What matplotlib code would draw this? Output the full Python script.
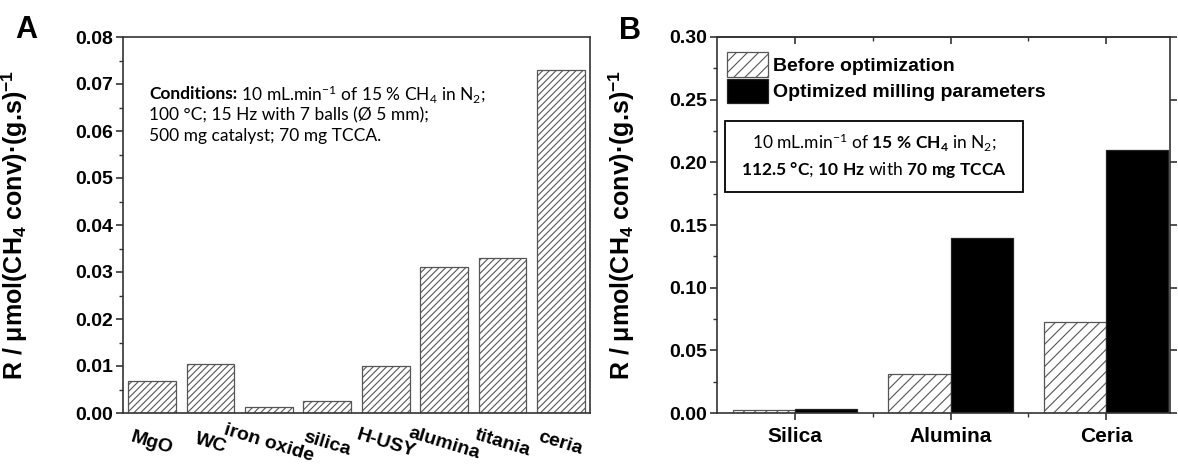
import matplotlib
matplotlib.use("Agg")
import matplotlib.pyplot as plt
import matplotlib.patches as mpatches
import numpy as np

# ---- data ----
catalysts_a = ["MgO", "WC", "iron oxide", "silica", "H-USY", "alumina", "titania", "ceria"]
rate_a = [0.0069, 0.0104, 0.0012, 0.0025, 0.0099, 0.031, 0.033, 0.073]

catalysts_b = ["Silica", "Alumina", "Ceria"]
rate_before = [0.0025, 0.031, 0.0725]
rate_optimized = [0.003, 0.14, 0.21]

yticks_a = [0.00, 0.01, 0.02, 0.03, 0.04, 0.05, 0.06, 0.07, 0.08]
yticks_b = [0.00, 0.05, 0.10, 0.15, 0.20, 0.25, 0.30]

plt.rcParams['font.family'] = ['Liberation Sans', 'DejaVu Sans']
plt.rcParams['mathtext.fontset'] = 'custom'
plt.rcParams['mathtext.rm'] = 'Lato'
plt.rcParams['mathtext.it'] = 'Lato:italic'
plt.rcParams['mathtext.bf'] = 'Lato:bold'
plt.rcParams['mathtext.sf'] = 'Liberation Sans:bold'
plt.rcParams['hatch.linewidth'] = 0.8

W, H = 1178, 471
fig = plt.figure(figsize=(W / 100, H / 100), dpi=100)

def frac(x0, y0, x1, y1):
    return [x0 / W, 1 - y1 / H, (x1 - x0) / W, (y1 - y0) / H]

spine_col = '#333333'
hatch_col = '#555555'
ylabel = r"R / μmol(CH$_\mathsf{4}$ conv)·(g.s)$^{\mathsf{-1}}$"
cond_font = dict(fontsize=12.5, family='Lato')

# ---------- Panel A ----------
axA = fig.add_axes(frac(123, 37, 590, 413))
xa = np.arange(1, len(catalysts_a) + 1)
axA.bar(xa, rate_a, width=0.82, color='white', edgecolor=hatch_col,
        hatch='/////', linewidth=0.9)
axA.set_xlim(0.5, len(catalysts_a) + 0.5)
axA.set_ylim(0, 0.08)
axA.set_yticks(yticks_a)
axA.set_yticklabels([f"{v:.2f}" for v in yticks_a], fontsize=14, fontweight='bold')
axA.set_yticks(np.arange(0.005, 0.08, 0.01), minor=True)
axA.tick_params(axis='y', which='major', direction='out', length=5, width=1.2, color=spine_col, pad=2)
axA.tick_params(axis='y', which='minor', direction='out', length=3, width=1.0, color=spine_col)
axA.set_xticks(xa)
axA.set_xticklabels(catalysts_a, fontsize=14, fontweight='bold', rotation=-17,
                    rotation_mode='anchor', ha='center', va='center')
axA.tick_params(axis='x', which='both', length=0, pad=22)
for s in axA.spines.values():
    s.set_color(spine_col)
    s.set_linewidth(1.2)
axA.set_ylabel(ylabel, fontsize=18, fontweight='bold')
axA.yaxis.set_label_coords((30 - 123) / 467, 0.5)

t1 = axA.text((149 - 123) / 467, (413 - 94) / 376, "Conditions:", fontweight='bold',
              transform=axA.transAxes, va='center', ha='left', **cond_font)
axA.annotate(r" 10 mL.min$^{-1}$ of 15 % CH$_4$ in N$_2$;", xy=(1, 0.5), xycoords=t1,
             va='center', ha='left', **cond_font)
axA.text((149 - 123) / 467, (413 - 115) / 376, "100 °C; 15 Hz with 7 balls (Ø 5 mm);",
         transform=axA.transAxes, va='center', ha='left', **cond_font)
axA.text((149 - 123) / 467, (413 - 136) / 376, "500 mg catalyst; 70 mg TCCA.",
         transform=axA.transAxes, va='center', ha='left', **cond_font)

fig.text(26 / W, 1 - 30 / H, "A", fontsize=22, fontweight='bold', ha='center', va='center')

# ---------- Panel B ----------
axB = fig.add_axes(frac(717, 37, 1170, 413))
xb = np.arange(1, len(catalysts_b) + 1)
axB.bar(xb, rate_before, width=-0.4, align='edge', color='white', edgecolor=hatch_col,
        hatch='///', linewidth=0.9, label='Before optimization')
axB.bar(xb, rate_optimized, width=0.4, align='edge', color='black', edgecolor='#222222',
        linewidth=0.9, label='Optimized milling parameters')
axB.set_xlim(0.5, 3.41)
axB.set_ylim(0, 0.30)
axB.set_yticks(yticks_b)
axB.set_yticklabels([f"{v:.2f}" for v in yticks_b], fontsize=14, fontweight='bold')
axB.set_yticks(np.arange(0.025, 0.30, 0.05), minor=True)
axB.set_xticks(xb)
axB.set_xticklabels(catalysts_b, fontsize=15, fontweight='bold')
axB.set_xticks([1.5, 2.5], minor=True)
axB.tick_params(axis='y', which='major', direction='out', length=5, width=1.2, color=spine_col, pad=2,
                right=True)
axB.tick_params(axis='y', which='minor', direction='out', length=3, width=1.0, color=spine_col)
axB.tick_params(axis='x', which='major', direction='out', length=5, width=1.2, color=spine_col, pad=5)
axB.tick_params(axis='x', which='minor', direction='out', length=3, width=1.0, color=spine_col)
secx = axB.secondary_xaxis('top')
secx.set_xticks(xb)
secx.set_xticks([1.5, 2.5], minor=True)
secx.tick_params(axis='x', which='major', direction='in', length=5, width=1.2, color=spine_col,
                 labeltop=False)
secx.tick_params(axis='x', which='minor', direction='in', length=3, width=1.0, color=spine_col)
secx.spines['top'].set_color(spine_col)
secx.spines['top'].set_linewidth(1.2)
for s in axB.spines.values():
    s.set_color(spine_col)
    s.set_linewidth(1.2)
axB.set_ylabel(ylabel, fontsize=18, fontweight='bold')
axB.yaxis.set_label_coords((637 - 717) / 453, 0.5)

leg = axB.legend(loc='upper left', bbox_to_anchor=(0.0, 0.985), frameon=False,
                 prop={'weight': 'bold', 'size': 14}, handlelength=2.1, handleheight=1.55,
                 handletextpad=0.3, labelspacing=0.1, borderaxespad=0.3, borderpad=0.2)

# conditions box
fig.patches.append(mpatches.Rectangle((725 / W, 1 - 192 / H), 298 / W, 71 / H,
                                      transform=fig.transFigure, fill=False,
                                      edgecolor='black', linewidth=1.3))
fig.text(874 / W, 1 - 142 / H,
         r"10 mL.min$^{-1}$ of $\mathbf{15\ \%\ CH_4}$ in N$_2$;",
         fontsize=12.5, family='Lato', ha='center', va='center')
fig.text(874 / W, 1 - 170 / H,
         r"$\mathbf{112.5\ °C}$; $\mathbf{10\ Hz}$ with $\mathbf{70\ mg\ TCCA}$",
         fontsize=12.5, family='Lato', ha='center', va='center')

fig.text(630 / W, 1 - 31 / H, "B", fontsize=22, fontweight='bold', ha='center', va='center')

fig.savefig("out.png", dpi=100)
